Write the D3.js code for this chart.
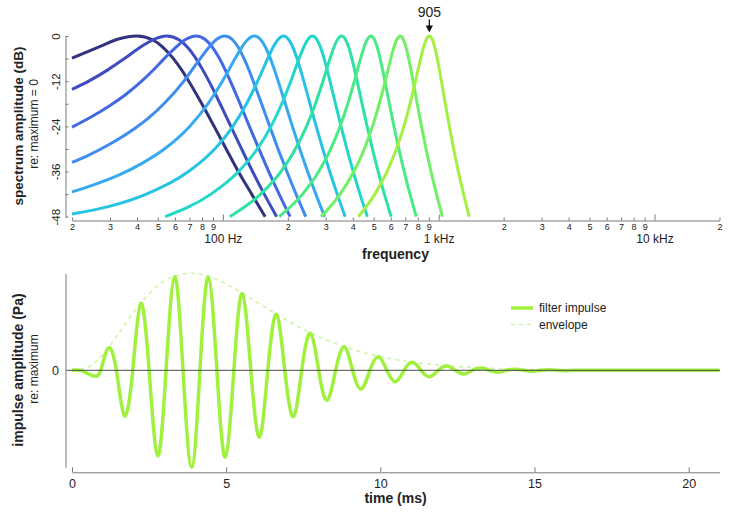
<!DOCTYPE html>
<html><head><meta charset="utf-8">
<script src="https://cdn.jsdelivr.net/npm/d3@7"></script>
<style>
body{margin:0;background:#fff}
svg{display:block;background:#fff}
text{font-family:"Liberation Sans",Arial,Helvetica,sans-serif;fill:#222}
</style>
</head><body>
<svg id="chart" width="738" height="528"></svg>
<script>
// ---------- DATA ----------
const filterCF = [40, 55, 75, 102, 140, 191, 260, 355, 485, 663, 905];
const spectrumColors = ["#31337f","#3d4cbf","#4369e2","#3f8cf0","#36a9f1","#27c3e4","#22d6c8","#2fe2a4","#4aea84","#72f064","#a4f042"];
// [frequency (Hz), amplitude (dB re max)] for each filter
const spectrum1 = [[20,-5.9],[23.5,-4.2],[27.2,-2.7],[32.8,-0.8],[40,0],[47.2,-1],[52.8,-3],[59.0,-6],[64.4,-9],[69.5,-12],[79.9,-18],[91.1,-24],[103.6,-30],[117.9,-36],[136,-42],[157,-48]];
const spectrum2 = [[20,-14.2],[23.9,-12],[29.3,-9],[35.0,-6],[41.4,-3],[47.4,-1],[55,0],[62.6,-1],[68.6,-3],[75.1,-6],[80.7,-9],[86.2,-12],[97.1,-18],[108.9,-24],[122.1,-30],[137.3,-36],[155.5,-42],[177.5,-48]];
const spectrum3 = [[20,-24.2],[24.5,-21.5],[29.9,-18.5],[35,-15.8],[41.7,-12.2],[47.5,-9.1],[53.5,-6],[60.5,-3],[66.9,-1],[75,0],[83.1,-1],[89.5,-3],[96.5,-6],[102.5,-9],[108.3,-12],[120.1,-18],[132.7,-24],[146.9,-30],[163.1,-36],[182.3,-42],[205,-48]];
const spectrum4 = [[20,-33.6],[23.8,-31.7],[30,-28.7],[39.2,-24.5],[45,-21.9],[52.9,-18.2],[65.7,-12.1],[72.0,-9],[78.6,-6],[86.2,-3],[93.1,-1],[102,0],[110.9,-1],[117.8,-3],[125.4,-6],[132,-9],[138.3,-12],[151.1,-18],[164.8,-24],[180.2,-30],[197.9,-36],[218.3,-42],[242.2,-48]];
const spectrum5 = [[20,-41.4],[25,-39.6],[33.1,-36.9],[42,-33.9],[52.8,-30.3],[70,-24.1],[85.3,-18],[99.5,-12],[106.6,-9],[113.9,-6],[122.4,-3],[130.1,-1],[140,0],[149.9,-1],[157.6,-3],[166.1,-6],[173.4,-9],[180.5,-12],[194.7,-18],[210,-24],[227.2,-30],[246.9,-36],[269.7,-42],[296.3,-48]];
const spectrum6 = [[20,-47.3],[30,-45.2],[43.4,-42.2],[69.3,-36],[91.7,-30],[111.3,-24],[128.7,-18],[144.9,-12],[153,-9],[161.3,-6],[171,-3],[179.8,-1],[191,0],[202.2,-1],[211.1,-3],[220.7,-6],[229.1,-9],[237.1,-12],[253.3,-18],[270.7,-24],[290.3,-30],[312.7,-36],[338.6,-42],[368.9,-48]];
const spectrum7 = [[54,-48],[88.1,-42],[118.3,-36],[144.4,-30],[167.2,-24],[187.5,-18],[206.4,-12],[215.7,-9],[225.5,-6],[236.7,-3],[246.9,-1],[260,0],[273.1,-1],[283.4,-3],[294.5,-6],[304.3,-9],[313.6,-12],[332.5,-18],[352.8,-24],[375.6,-30],[401.7,-36],[431.9,-42],[467.2,-48]];
const spectrum8 = [[107.6,-48],[149.7,-42],[185.8,-36],[216.9,-30],[244.1,-24],[268.4,-18],[290.9,-12],[302.1,-9],[313.8,-6],[327.1,-3],[339.4,-1],[355,0],[370.6,-1],[382.9,-3],[396.3,-6],[407.9,-9],[419.1,-12],[441.6,-18],[465.9,-24],[493.1,-30],[524.2,-36],[560.3,-42],[602.4,-48]];
const spectrum9 = [[182.5,-48],[234,-42],[278.1,-36],[316.2,-30],[349.4,-24],[379.1,-18],[406.7,-12],[420.3,-9],[434.6,-6],[450.9,-3],[465.9,-1],[485,0],[504.1,-1],[519.1,-3],[535.4,-6],[549.7,-9],[563.3,-12],[590.9,-18],[620.6,-24],[653.8,-30],[691.9,-36],[736,-42],[787.5,-48]];
const spectrum10 = [[285,-48],[349.4,-42],[404.5,-36],[452.1,-30],[493.6,-24],[530.7,-18],[565.1,-12],[582.2,-9],[600,-6],[620.4,-3],[639.1,-1],[663,0],[686.9,-1],[705.6,-3],[726,-6],[743.8,-9],[760.9,-12],[795.3,-18],[832.4,-24],[873.9,-30],[921.5,-36],[976.6,-42],[1041,-48]];
const spectrum11 = [[424.5,-48],[506.3,-42],[576.4,-36],[636.9,-30],[689.7,-24],[736.8,-18],[780.6,-12],[802.3,-9],[824.9,-6],[850.9,-3],[874.6,-1],[905,0],[935.4,-1],[959.1,-3],[985.1,-6],[1007.7,-9],[1029.4,-12],[1073.2,-18],[1120.3,-24],[1173.1,-30],[1233.6,-36],[1303.7,-42],[1385.5,-48]];
const spectra = [spectrum1,spectrum2,spectrum3,spectrum4,spectrum5,spectrum6,spectrum7,spectrum8,spectrum9,spectrum10,spectrum11];

const dbTicks = [0,-6,-12,-18,-24,-30,-36,-42,-48];
const dbLabels = [0,-12,-24,-36,-48];
const freqTicks = [20,30,40,50,60,70,80,90,200,300,400,500,600,700,800,900,2000,3000,4000,5000,6000,7000,8000,9000,20000];
const decadeTicks = [100,1000,10000];
const decadeLabels = ["100 Hz","1 kHz","10 kHz"];
const peakLabel = 905;

// impulse response (ms, re: maximum) — extrema and zero crossings
const impulseTime = [0,0.3,0.67,0.93,1.17,1.44,1.70,1.97,2.23,2.50,2.78,3.05,3.33,3.60,3.88,4.15,4.42,4.70,4.97,5.25,5.52,5.80,6.08,6.35,6.63,6.90,7.18,7.45,7.73,8.00,8.27,8.55,8.83,9.10,9.38,9.66,9.94,10.21,10.49,10.77,11.04,11.32,11.60,11.88,12.15,12.43,12.71,12.98,13.26,13.54,13.82,14.09,14.37,14.65,14.93,15.20,15.48,15.75,16.03,16.30,21];
const impulseAmp = [0,-0.004,-0.056,0,0.227,0,-0.468,0,0.69,0,-0.88,0,0.965,0,-1.0,0,0.962,0,-0.894,0,0.79,0,-0.688,0,0.577,0,-0.478,0,0.381,0,-0.31,0,0.243,0,-0.193,0,0.14,0,-0.117,0,0.082,0,-0.066,0,0.044,0,-0.038,0,0.024,0,-0.02,0,0.012,0,-0.01,0,0.006,0,-0.004,0,0];
const envelopeTime = [0,0.5,1,1.5,2,2.5,3,3.5,3.83,4,4.5,5,5.5,6,6.5,7,7.5,8,8.5,9,9.5,10,11,12,13,14,15,16,18,21];
const envelopeAmp = [0,0.03,0.164,0.373,0.598,0.788,0.921,0.988,1.0,0.997,0.96,0.89,0.8,0.702,0.603,0.509,0.423,0.347,0.282,0.226,0.179,0.142,0.086,0.051,0.03,0.017,0.01,0.005,0.002,0];
const timeTicks = [0,5,10,15,20];
const legendLabels = ["filter impulse","envelope"];
const impulseColor = "#a0f03e";
const envelopeColor = "#cdf5a6";

// ---------- DRAW ----------
const svg = d3.select("#chart");
const axisColor = "#7a7a7a";

// Top panel scales
const xF = d3.scaleLog().domain([20,20000]).range([72,719.5]);
const yDb = d3.scaleLinear().domain([-48,0]).range([216.7,36]);

const gTop = svg.append("g");
const lineSpec = d3.line().x(d=>xF(d[0])).y(d=>yDb(d[1])).curve(d3.curveMonotoneX);
spectra.forEach((s,i)=>{
  gTop.append("path").attr("d",lineSpec(s)).attr("fill","none")
    .attr("stroke",spectrumColors[i]).attr("stroke-width",3).attr("stroke-linejoin","round");
});

// top y axis
const yAxTop = gTop.append("g").attr("transform","translate(65.5,0)")
  .call(d3.axisLeft(yDb).tickValues(dbTicks).tickSizeInner(-3).tickSizeOuter(0)
        .tickFormat(d=>dbLabels.includes(d)?String(d):""));
yAxTop.selectAll("path,line").attr("stroke",axisColor);
yAxTop.selectAll("text").attr("x",null).attr("dy",null).attr("text-anchor","middle")
  .attr("transform","translate(-6,0) rotate(-90)").style("font-size","11.5px").attr("fill","#222");

// top x axis (minor)
const xAxTop = gTop.append("g").attr("transform","translate(0,220.5)")
  .call(d3.axisBottom(xF).tickValues(freqTicks).tickSizeInner(-3).tickSizeOuter(0).tickPadding(3)
        .tickFormat(d=>String(d).charAt(0)));
xAxTop.selectAll("path,line").attr("stroke",axisColor);
xAxTop.selectAll("text").style("font-size","9px").attr("fill","#222");
// decade ticks
const xAxDec = gTop.append("g").attr("transform","translate(0,220.5)")
  .call(d3.axisBottom(xF).tickValues(decadeTicks).tickSizeInner(-6).tickSizeOuter(0).tickPadding(13.7)
        .tickFormat((d,i)=>decadeLabels[i]));
xAxDec.select(".domain").remove();
xAxDec.selectAll("line").attr("stroke",axisColor);
xAxDec.selectAll("text").style("font-size","12px").attr("fill","#222");

// titles top
svg.append("text").attr("x",395.5).attr("y",258.5).attr("text-anchor","middle")
  .style("font-size","14px").style("font-weight","bold").attr("fill","#111").text("frequency");
svg.append("text").attr("transform","translate(18,126) rotate(-90)").attr("text-anchor","middle")
  .attr("dominant-baseline","central").style("font-size","13.5px").style("font-weight","bold").attr("fill","#111")
  .text("spectrum amplitude (dB)");
svg.append("text").attr("transform","translate(33.5,124) rotate(-90)").attr("text-anchor","middle")
  .attr("dominant-baseline","central").style("font-size","12px").attr("fill","#222")
  .text("re: maximum = 0");

// peak annotation
const px = xF(peakLabel);
svg.append("text").attr("x",px).attr("y",16.7).attr("text-anchor","middle")
  .style("font-size","14px").attr("fill","#111").text(String(peakLabel));
svg.append("line").attr("x1",px).attr("x2",px).attr("y1",19.5).attr("y2",27)
  .attr("stroke","#111").attr("stroke-width",1.3);
svg.append("path").attr("d",`M${px-3.6},${25.5}L${px+3.6},${25.5}L${px},${yDb(0)-3.5}Z`).attr("fill","#111");

// Bottom panel scales
const xT = d3.scaleLinear().domain([0,21]).range([72,719.5]);
const yA = d3.scaleLinear().domain([-1,1]).range([467.3,273.3]);
const gBot = svg.append("g");

const envData = envelopeTime.map((t,i)=>[t,envelopeAmp[i]]);
gBot.append("path").attr("d",d3.line().x(d=>xT(d[0])).y(d=>yA(d[1])).curve(d3.curveMonotoneX)(envData))
  .attr("fill","none").attr("stroke",envelopeColor).attr("stroke-width",1.6).attr("stroke-dasharray","4,4");

const impData = impulseTime.map((t,i)=>[t,impulseAmp[i]]);
const impLine = d3.line().x(d=>xT(d[0])).y(d=>yA(d[1]));
gBot.append("path").attr("d",impLine.curve(d3.curveNatural)(impData.slice(0,-1)))
  .attr("fill","none").attr("stroke",impulseColor).attr("stroke-width",3.5).attr("stroke-linejoin","round");
gBot.append("path").attr("d",d3.line().x(d=>xT(d[0])).y(d=>yA(d[1]))(impData.slice(-2)))
  .attr("fill","none").attr("stroke",impulseColor).attr("stroke-width",3.5);

// zero line
gBot.append("line").attr("x1",66).attr("x2",720).attr("y1",yA(0)).attr("y2",yA(0))
  .attr("stroke","#4a4a4a").attr("stroke-width",1);

// bottom y axis
const yAxBot = gBot.append("g").attr("transform","translate(65.5,0)")
  .call(d3.axisLeft(yA).tickValues([0]).tickSizeInner(0).tickSizeOuter(0).tickPadding(6.5).tickFormat(d=>String(d)));
yAxBot.selectAll("path").attr("stroke",axisColor);
yAxBot.selectAll("text").style("font-size","12.5px").attr("fill","#222");

// bottom x axis
const xAxBot = gBot.append("g").attr("transform","translate(0,472.3)")
  .call(d3.axisBottom(xT).tickValues(timeTicks).tickSizeInner(-5).tickSizeOuter(0).tickPadding(6.5));
xAxBot.selectAll("path,line").attr("stroke",axisColor);
xAxBot.selectAll("text").style("font-size","12.5px").attr("fill","#222");

svg.append("text").attr("x",395.5).attr("y",503).attr("text-anchor","middle")
  .style("font-size","14px").style("font-weight","bold").attr("fill","#111").text("time (ms)");
svg.append("text").attr("transform","translate(18,370) rotate(-90)").attr("text-anchor","middle")
  .attr("dominant-baseline","central").style("font-size","14px").style("font-weight","bold").attr("fill","#111")
  .text("impulse amplitude (Pa)");
svg.append("text").attr("transform","translate(33.5,369) rotate(-90)").attr("text-anchor","middle")
  .attr("dominant-baseline","central").style("font-size","12px").attr("fill","#222")
  .text("re: maximum");

// legend
const lg = svg.append("g");
lg.append("line").attr("x1",511).attr("x2",533).attr("y1",308).attr("y2",308)
  .attr("stroke",impulseColor).attr("stroke-width",3.5);
lg.append("line").attr("x1",511).attr("x2",533).attr("y1",324.5).attr("y2",324.5)
  .attr("stroke",envelopeColor).attr("stroke-width",1.6).attr("stroke-dasharray","4,4");
lg.append("text").attr("x",539).attr("y",312.3).style("font-size","12px").attr("fill","#222").text(legendLabels[0]);
lg.append("text").attr("x",539).attr("y",328.8).style("font-size","12px").attr("fill","#222").text(legendLabels[1]);
</script>
</body></html>
